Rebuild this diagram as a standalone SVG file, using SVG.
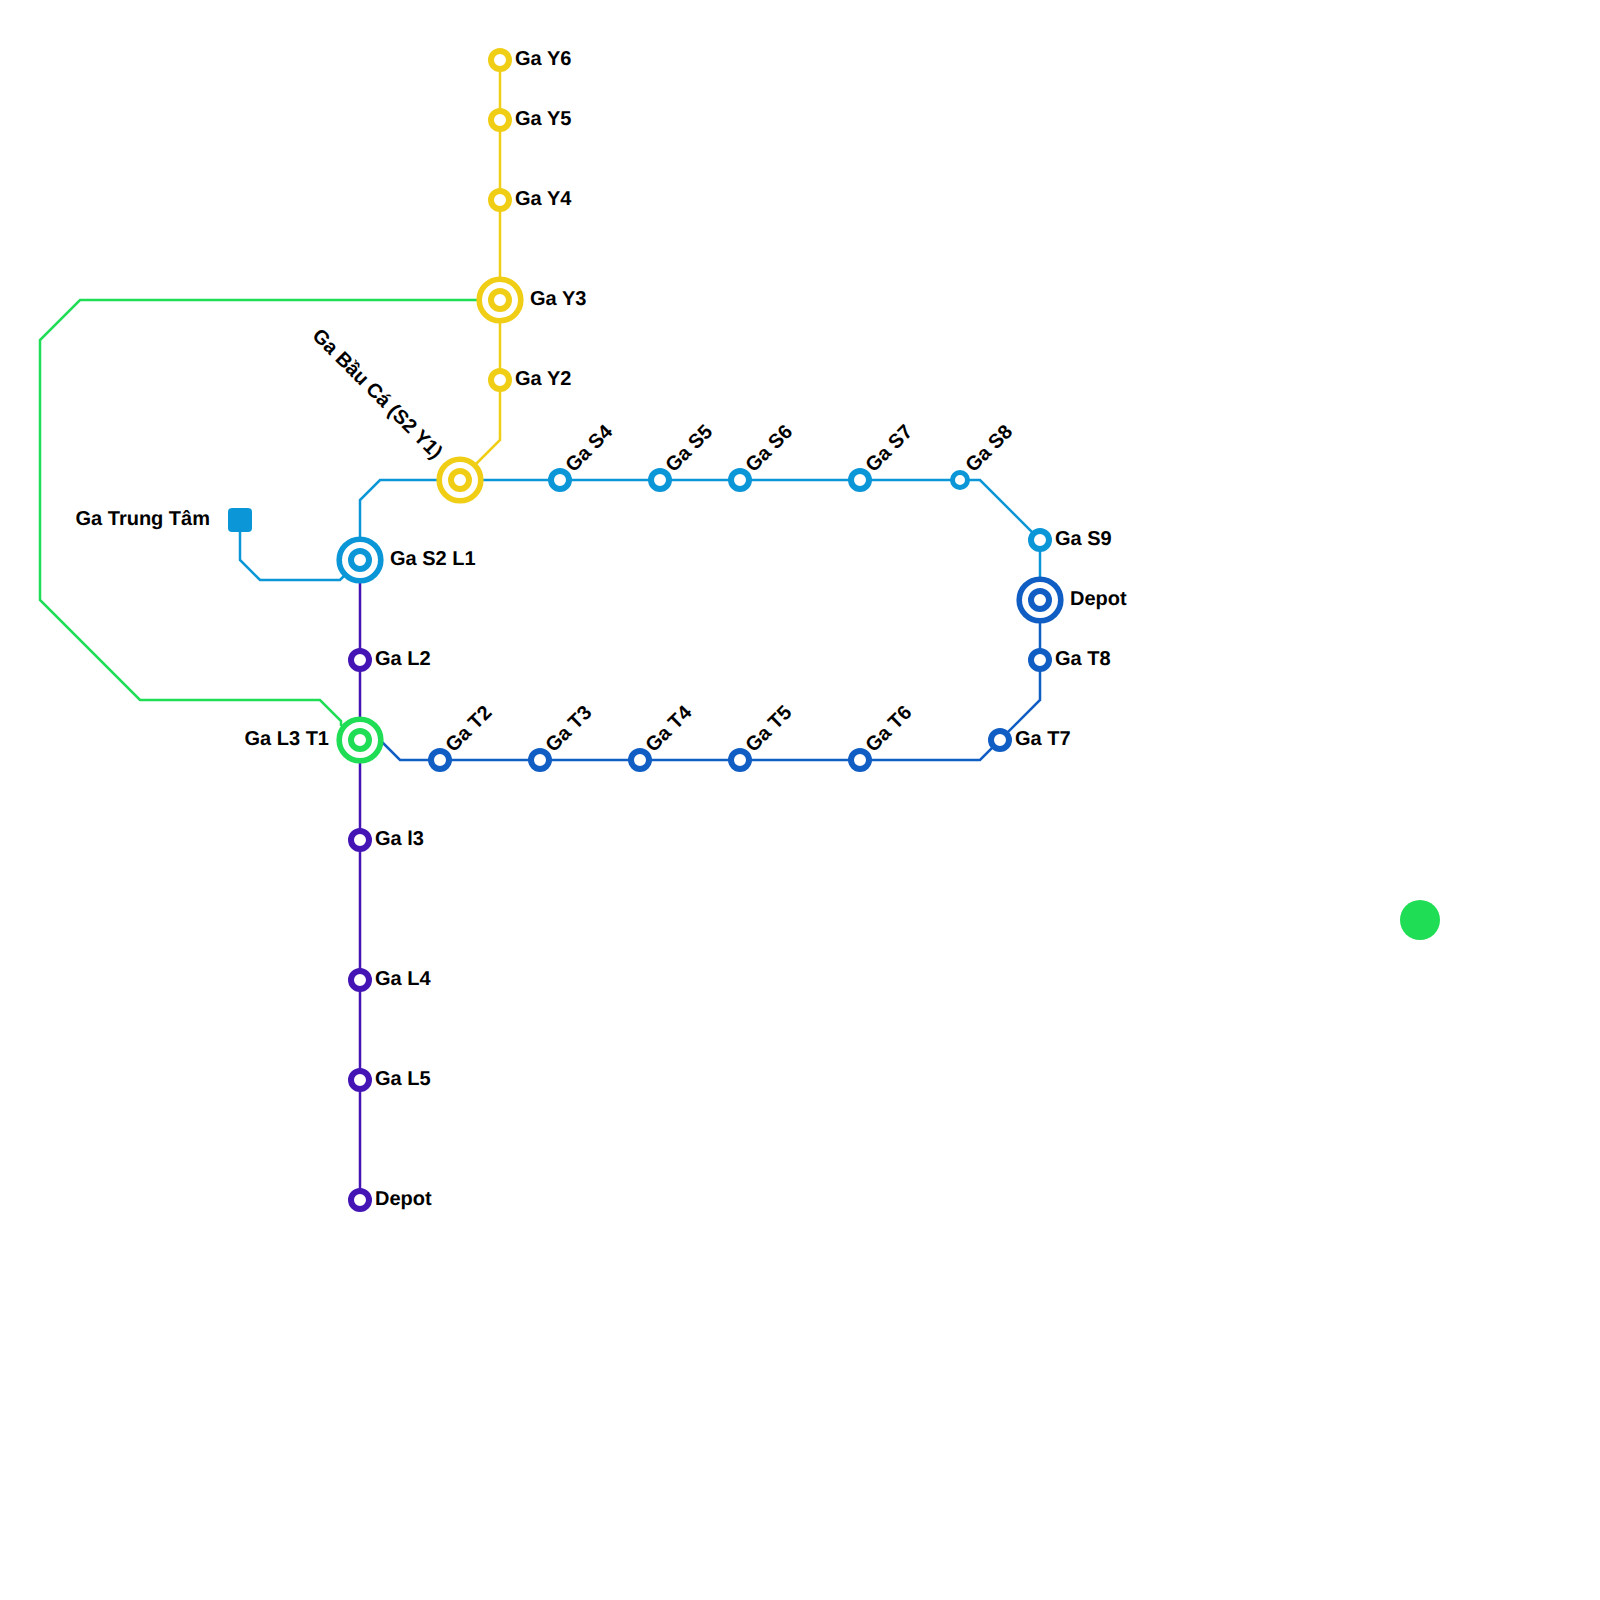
<svg xmlns="http://www.w3.org/2000/svg" width="1600" height="1600" viewBox="0 0 1600 1600">
<style>
.l{fill:none;stroke-width:2.5;stroke-linejoin:miter}
.s{fill:#fff;stroke-width:6;r:9px}
.i{fill:#fff;stroke-width:6;r:9px}
.r{fill:#fff;stroke-width:5.6;r:20.8px}
text{font-family:"Liberation Sans",Arial,sans-serif;font-weight:700;font-size:20px;fill:#000;text-rendering:geometricPrecision}
.e{text-anchor:end}
.Y{stroke:#f0ce15}.B{stroke:#0a96d7}.D{stroke:#105ec4}.P{stroke:#4414b5}.G{stroke:#1fdd55}
</style>
<rect width="1600" height="1600" fill="#fff"/>
<g id="connectors">
<path class="l G" d="M500 300H80L40 340V600L140 700H320L341 721V726"/>
<path class="l Y" d="M500 60V440L460 480"/>
<path class="l B" d="M240 520V560L260 580H340L360 560"/>
<path class="l B" d="M360 560V500L380 480H980L1040 540V600"/>
<path class="l P" d="M360 560V1200"/>
<path class="l D" d="M360 720L400 760H980L1040 700V600"/>
</g>
<g id="st-y6"><circle class="s Y" cx="500" cy="60"/><text x="515" y="65">Ga Y6</text></g>
<g id="st-y5"><circle class="s Y" cx="500" cy="120"/><text x="515" y="125">Ga Y5</text></g>
<g id="st-y4"><circle class="s Y" cx="500" cy="200"/><text x="515" y="205">Ga Y4</text></g>
<g id="st-y3"><circle class="r Y" cx="500" cy="300"/><circle class="i Y" cx="500" cy="300"/><text x="530" y="305">Ga Y3</text></g>
<g id="st-y2"><circle class="s Y" cx="500" cy="380"/><text x="515" y="385">Ga Y2</text></g>
<g id="st-bauca"><circle class="r Y" cx="460" cy="480"/><circle class="i Y" cx="460" cy="480"/><text class="e" transform="translate(434.5 460) rotate(45)">Ga Bầu Cá (S2 Y1)</text></g>
<g id="st-s4"><circle class="s B" cx="560" cy="480"/><text transform="translate(573.5 473) rotate(-45)">Ga S4</text></g>
<g id="st-s5"><circle class="s B" cx="660" cy="480"/><text transform="translate(673.5 473) rotate(-45)">Ga S5</text></g>
<g id="st-s6"><circle class="s B" cx="740" cy="480"/><text transform="translate(753.5 473) rotate(-45)">Ga S6</text></g>
<g id="st-s7"><circle class="s B" cx="860" cy="480"/><text transform="translate(873.5 473) rotate(-45)">Ga S7</text></g>
<g id="st-s8"><circle class="s B" cx="960" cy="480" style="r:7.5px;stroke-width:5"/><text transform="translate(973.5 473) rotate(-45)">Ga S8</text></g>
<g id="st-s9"><circle class="s B" cx="1040" cy="540"/><text x="1055" y="545">Ga S9</text></g>
<g id="st-depot-d"><circle class="r D" cx="1040" cy="600"/><circle class="i D" cx="1040" cy="600"/><text x="1070" y="605">Depot</text></g>
<g id="st-t8"><circle class="s D" cx="1040" cy="660"/><text x="1055" y="665">Ga T8</text></g>
<g id="st-t7"><circle class="s D" cx="1000" cy="740"/><text x="1015" y="745">Ga T7</text></g>
<g id="st-t6"><circle class="s D" cx="860" cy="760"/><text transform="translate(873.5 753) rotate(-45)">Ga T6</text></g>
<g id="st-t5"><circle class="s D" cx="740" cy="760"/><text transform="translate(753.5 753) rotate(-45)">Ga T5</text></g>
<g id="st-t4"><circle class="s D" cx="640" cy="760"/><text transform="translate(653.5 753) rotate(-45)">Ga T4</text></g>
<g id="st-t3"><circle class="s D" cx="540" cy="760"/><text transform="translate(553.5 753) rotate(-45)">Ga T3</text></g>
<g id="st-t2"><circle class="s D" cx="440" cy="760"/><text transform="translate(453.5 753) rotate(-45)">Ga T2</text></g>
<g id="st-s2l1"><circle class="r B" cx="360" cy="560"/><circle class="i B" cx="360" cy="560"/><text x="390" y="565">Ga S2 L1</text></g>
<g id="st-l2"><circle class="s P" cx="360" cy="660"/><text x="375" y="665">Ga L2</text></g>
<g id="st-l3t1"><circle class="r G" cx="360" cy="740"/><circle class="i G" cx="360" cy="740"/><text class="e" x="329" y="745">Ga L3 T1</text></g>
<g id="st-l3"><circle class="s P" cx="360" cy="840"/><text x="375" y="845">Ga l3</text></g>
<g id="st-l4"><circle class="s P" cx="360" cy="980"/><text x="375" y="985">Ga L4</text></g>
<g id="st-l5"><circle class="s P" cx="360" cy="1080"/><text x="375" y="1085">Ga L5</text></g>
<g id="st-depot-p"><circle class="s P" cx="360" cy="1200"/><text x="375" y="1205">Depot</text></g>
<g id="st-trungtam"><rect x="228" y="508" width="24" height="24" rx="4" fill="#0a96d7"/><text class="e" x="210" y="525">Ga Trung Tâm</text></g>
<g id="st-green"><circle cx="1420" cy="920" r="20" fill="#1fdd55"/></g>
</svg>
